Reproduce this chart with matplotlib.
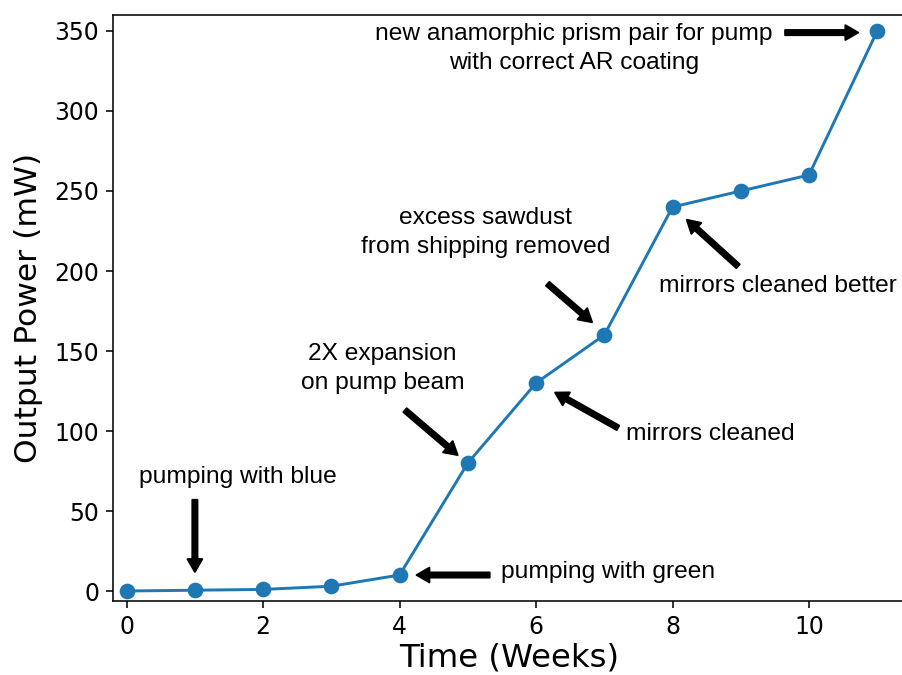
import matplotlib
matplotlib.use('Agg')
import matplotlib.pyplot as plt

# weekly laser output power
weeks = [0, 1, 2, 3, 4, 5, 6, 7, 8, 9, 10, 11]
power_mw = [0, 0.5, 1, 3, 10, 80, 130, 160, 240, 250, 260, 350]

# notes: text, text centre (x, y), arrow tail, arrow tip
notes = [
    ("pumping with blue", (1.63, 71), (1.0, 57), (1.0, 12)),
    ("pumping with green", (7.05, 12), (5.32, 10), (4.25, 10)),
    ("2X expansion\non pump beam", (3.75, 139), (4.08, 113), (4.85, 85)),
    ("mirrors cleaned", (8.55, 98), (7.2, 102), (6.28, 124)),
    ("excess sawdust\nfrom shipping removed", (5.26, 224), (6.17, 192), (6.82, 168)),
    ("mirrors cleaned better", (9.55, 190.5), (8.96, 203), (8.21, 232)),
    ("new anamorphic prism pair for pump\nwith correct AR coating", (6.55, 339), (9.65, 349), (10.72, 349)),
]

fig = plt.figure(figsize=(902 / 141, 675 / 141), dpi=141)
ax = fig.add_axes([0.1253, 0.1096, 0.8775, 0.8682])

ax.plot(weeks, power_mw, '-o', color='#1f77b4', lw=1.5, ms=7)

arrow_kw = dict(facecolor='black', edgecolor='black', width=2.6, headwidth=7.5, headlength=6.5, shrink=0.0)
for text, pos, tail, tip in notes:
    ax.annotate('', xy=tip, xytext=tail, arrowprops=arrow_kw)
    ax.text(pos[0], pos[1], text, ha='center', va='center', fontsize=12.5,
            family='Liberation Sans', linespacing=1.42)

ax.set_xlim(-0.2, 11.4)
ax.set_ylim(-6.25, 360)
ax.set_xticks([0, 2, 4, 6, 8, 10])
ax.set_yticks([0, 50, 100, 150, 200, 250, 300, 350])
ax.tick_params(labelsize=12)
ax.set_xlabel('Time (Weeks)', fontsize=16.5, labelpad=2)
ax.set_ylabel('Output Power (mW)', fontsize=16, labelpad=6)

fig.savefig('out.png', dpi=141)
